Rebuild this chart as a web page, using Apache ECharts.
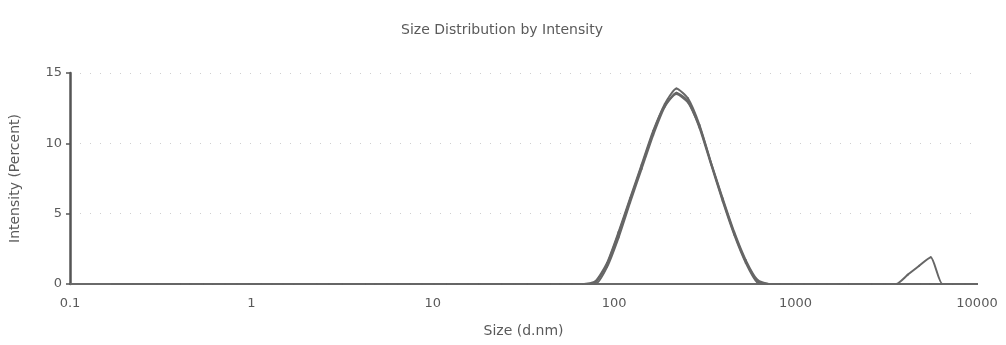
<!DOCTYPE html>
<html>
<head>
<meta charset="utf-8">
<script src="https://cdn.jsdelivr.net/npm/echarts@6/dist/echarts.min.js"></script>
<style>
  html, body { margin: 0; padding: 0; background: #fff; }
  #chart { width: 1006px; height: 345px; }
</style>
</head>
<body>
<div id="chart"></div>
<script>
// Size classes (d.nm) of the instrument, 70 log-spaced bins
const sizes = [
  0.4000, 0.4632, 0.5365, 0.6213, 0.7195, 0.8332, 0.9649, 1.117, 1.294, 1.499,
  1.736, 2.010, 2.328, 2.696, 3.122, 3.615, 4.187, 4.849, 5.615, 6.503,
  7.531, 8.721, 10.10, 11.70, 13.54, 15.69, 18.17, 21.04, 24.36, 28.21,
  32.67, 37.84, 43.82, 50.75, 58.77, 68.06, 78.82, 91.28, 105.7, 122.4,
  141.8, 164.2, 190.1, 220.2, 255.0, 295.3, 342.0, 396.1, 458.7, 531.2,
  615.1, 712.4, 825.0, 955.4, 1106, 1281, 1484, 1718, 1990, 2305,
  2669, 3091, 3580, 4145, 4801, 5560, 6439, 7456, 8635, 10000
];

// Short lead-in below the first size class, recorded at zero intensity
const leadSizes = [0.17, 0.22, 0.30];
const leadValues = [0, 0, 0];

// Intensity (%) per size class for each of the three records
const record1 = [
  0, 0, 0, 0, 0, 0, 0, 0, 0, 0,
  0, 0, 0, 0, 0, 0, 0, 0, 0, 0,
  0, 0, 0, 0, 0, 0, 0, 0, 0, 0,
  0, 0, 0, 0, 0, 0, 0.1, 1.4, 3.6, 6.0,
  8.4, 10.8, 12.8, 13.9, 13.2, 11.3, 8.6, 6.0, 3.6, 1.6,
  0.2, 0, 0, 0, 0, 0, 0, 0, 0, 0,
  0, 0, 0, 0, 0, 0, 0, 0, 0, 0
];
const record2 = [
  0, 0, 0, 0, 0, 0, 0, 0, 0, 0,
  0, 0, 0, 0, 0, 0, 0, 0, 0, 0,
  0, 0, 0, 0, 0, 0, 0, 0, 0, 0,
  0, 0, 0, 0, 0, 0, 0, 1.2, 3.3, 5.8,
  8.2, 10.6, 12.6, 13.6, 13.0, 11.1, 8.5, 5.9, 3.5, 1.5,
  0.1, 0, 0, 0, 0, 0, 0, 0, 0, 0,
  0, 0, 0, 0, 0, 0, 0, 0, 0, 0
];
const record3 = [
  0, 0, 0, 0, 0, 0, 0, 0, 0, 0,
  0, 0, 0, 0, 0, 0, 0, 0, 0, 0,
  0, 0, 0, 0, 0, 0, 0, 0, 0, 0,
  0, 0, 0, 0, 0, 0, 0.2, 1.5, 3.7, 6.1,
  8.5, 10.9, 12.7, 13.5, 12.9, 11.2, 8.6, 6.1, 3.7, 1.7,
  0.3, 0, 0, 0, 0, 0, 0, 0, 0, 0,
  0, 0, 0, 0.65, 1.3, 1.9, 0, 0, 0, 0
];

const xTicks = [0.1, 1, 10, 100, 1000, 10000];
const yTicks = [0, 5, 10, 15];

const font = 'DejaVu Sans';
const textColor = '#5a5a5a';
const lineColor = '#666666';

function pairs(xs, ys) {
  return xs.map((x, i) => [x, ys[i]]);
}

function record(name, data, width) {
  return {
    name: name,
    type: 'line',
    data: data,
    smooth: 0.2,
    showSymbol: true,
    symbol: 'circle',
    symbolSize: 2,
    itemStyle: { color: lineColor },
    lineStyle: { color: lineColor, width: width },
    emphasis: { disabled: true },
    z: 3
  };
}

const chart = echarts.init(document.getElementById('chart'), null, { renderer: 'canvas' });

chart.setOption({
  animation: false,
  backgroundColor: '#ffffff',
  title: {
    text: 'Size Distribution by Intensity',
    left: 497,
    top: 18,
    textAlign: 'center',
    textStyle: { fontFamily: font, fontSize: 14, fontWeight: 'normal', color: textColor }
  },
  grid: { left: 70, right: 29, top: 73, bottom: 61, containLabel: false },
  xAxis: {
    type: 'log',
    logBase: 10,
    min: xTicks[0],
    max: xTicks[xTicks.length - 1],
    name: 'Size (d.nm)',
    nameLocation: 'middle',
    nameGap: 40,
    nameTextStyle: { fontFamily: font, fontSize: 14, color: textColor },
    axisLine: { show: true, lineStyle: { color: '#6a6a6a', width: 2 } },
    axisTick: { show: false },
    splitLine: { show: false },
    axisLabel: {
      fontFamily: font,
      fontSize: 13,
      color: textColor,
      margin: 13,
      formatter: v => (xTicks.some(t => Math.abs(t - v) / t < 1e-6) ? String(+v.toPrecision(6)) : '')
    }
  },
  yAxis: {
    type: 'value',
    min: yTicks[0],
    max: yTicks[yTicks.length - 1],
    interval: 5,
    name: 'Intensity (Percent)',
    nameLocation: 'middle',
    nameGap: 48,
    nameRotate: 90,
    nameTextStyle: { fontFamily: font, fontSize: 14, color: textColor },
    axisLine: { show: true, lineStyle: { color: '#555555', width: 2.5 } },
    axisTick: { show: true, length: 4, lineStyle: { color: '#555555', width: 1.5 } },
    axisLabel: { fontFamily: font, fontSize: 13, color: textColor, margin: 8 },
    splitLine: {
      show: true,
      lineStyle: { color: '#cfcfcf', width: 1, type: [1, 9] }
    }
  },
  series: [
    record('Record 1', pairs(leadSizes, leadValues).concat(pairs(sizes, record1)), 2),
    record('Record 2', pairs(sizes, record2), 2),
    record('Record 3', pairs(sizes, record3), 2)
  ]
});
</script>
</body>
</html>
